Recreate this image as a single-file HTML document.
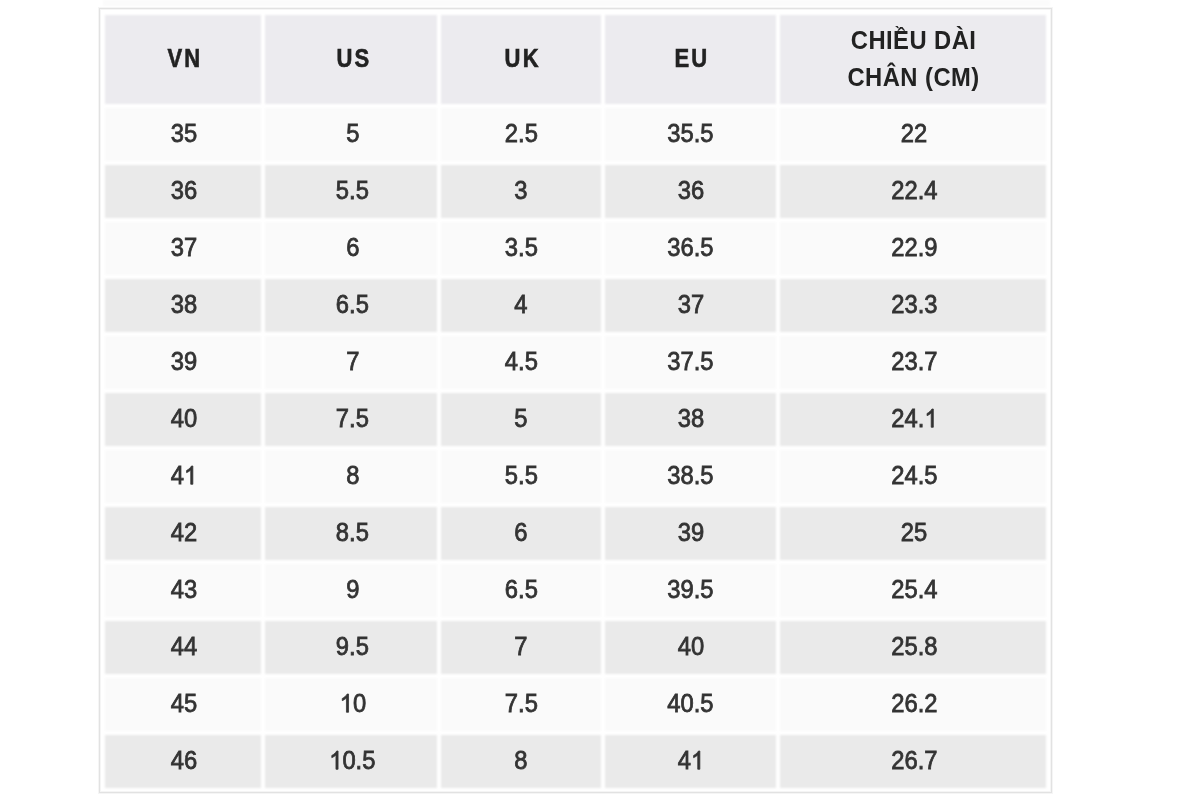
<!DOCTYPE html>
<html><head><meta charset="utf-8"><title>Size chart</title><style>
html,body{margin:0;padding:0;background:#fff;width:1200px;height:800px;overflow:hidden}
body{position:relative;font-family:"Liberation Sans",sans-serif}
.bg,.fg{position:absolute;left:0;top:0;width:1200px;height:800px}
.bg{filter:blur(1px)}
.fg{filter:blur(0.5px)}
.strip{position:absolute;left:103px;top:0;width:947px;height:6px;background:#fbfbfb}
.frame{position:absolute;left:99px;top:8px;width:951px;height:783px;border:1px solid #e2e2e2;box-shadow:0 0 0 1px #f5f5f5,inset 0 0 0 1px #f5f5f5}
.b{position:absolute}
.c{position:absolute;display:flex;align-items:center;justify-content:center;text-align:center;color:#333;font-size:25px;-webkit-text-stroke:0.8px #333}
.c>span{display:block;transform:scaleX(0.95);position:relative;top:-1px}
.h{color:#222;font-weight:bold;-webkit-text-stroke:0;letter-spacing:0.5px}
.hs{-webkit-text-stroke:0.6px #222}
.h5{line-height:37px}
.hs>span{transform:scaleX(0.88);letter-spacing:2.6px;margin-right:-2.6px}
.one{width:0.556em;height:0.73em;fill:currentColor;stroke:currentColor;stroke-width:65;overflow:visible;vertical-align:baseline}
</style></head><body>
<div class="bg">
<div class="strip"></div>

<div class="b" style="left:105px;top:15px;width:156px;height:89px;background:#ecebef"></div>
<div class="b" style="left:265px;top:15px;width:172px;height:89px;background:#ecebef"></div>
<div class="b" style="left:441px;top:15px;width:160px;height:89px;background:#ecebef"></div>
<div class="b" style="left:605px;top:15px;width:171px;height:89px;background:#ecebef"></div>
<div class="b" style="left:780px;top:15px;width:266px;height:89px;background:#ecebef"></div>
<div class="b" style="left:105px;top:108px;width:156px;height:53px;background:#fafafa"></div>
<div class="b" style="left:265px;top:108px;width:172px;height:53px;background:#fafafa"></div>
<div class="b" style="left:441px;top:108px;width:160px;height:53px;background:#fafafa"></div>
<div class="b" style="left:605px;top:108px;width:171px;height:53px;background:#fafafa"></div>
<div class="b" style="left:780px;top:108px;width:266px;height:53px;background:#fafafa"></div>
<div class="b" style="left:105px;top:165px;width:156px;height:53px;background:#eaeaea"></div>
<div class="b" style="left:265px;top:165px;width:172px;height:53px;background:#eaeaea"></div>
<div class="b" style="left:441px;top:165px;width:160px;height:53px;background:#eaeaea"></div>
<div class="b" style="left:605px;top:165px;width:171px;height:53px;background:#eaeaea"></div>
<div class="b" style="left:780px;top:165px;width:266px;height:53px;background:#eaeaea"></div>
<div class="b" style="left:105px;top:222px;width:156px;height:53px;background:#fafafa"></div>
<div class="b" style="left:265px;top:222px;width:172px;height:53px;background:#fafafa"></div>
<div class="b" style="left:441px;top:222px;width:160px;height:53px;background:#fafafa"></div>
<div class="b" style="left:605px;top:222px;width:171px;height:53px;background:#fafafa"></div>
<div class="b" style="left:780px;top:222px;width:266px;height:53px;background:#fafafa"></div>
<div class="b" style="left:105px;top:279px;width:156px;height:53px;background:#eaeaea"></div>
<div class="b" style="left:265px;top:279px;width:172px;height:53px;background:#eaeaea"></div>
<div class="b" style="left:441px;top:279px;width:160px;height:53px;background:#eaeaea"></div>
<div class="b" style="left:605px;top:279px;width:171px;height:53px;background:#eaeaea"></div>
<div class="b" style="left:780px;top:279px;width:266px;height:53px;background:#eaeaea"></div>
<div class="b" style="left:105px;top:336px;width:156px;height:53px;background:#fafafa"></div>
<div class="b" style="left:265px;top:336px;width:172px;height:53px;background:#fafafa"></div>
<div class="b" style="left:441px;top:336px;width:160px;height:53px;background:#fafafa"></div>
<div class="b" style="left:605px;top:336px;width:171px;height:53px;background:#fafafa"></div>
<div class="b" style="left:780px;top:336px;width:266px;height:53px;background:#fafafa"></div>
<div class="b" style="left:105px;top:393px;width:156px;height:53px;background:#eaeaea"></div>
<div class="b" style="left:265px;top:393px;width:172px;height:53px;background:#eaeaea"></div>
<div class="b" style="left:441px;top:393px;width:160px;height:53px;background:#eaeaea"></div>
<div class="b" style="left:605px;top:393px;width:171px;height:53px;background:#eaeaea"></div>
<div class="b" style="left:780px;top:393px;width:266px;height:53px;background:#eaeaea"></div>
<div class="b" style="left:105px;top:450px;width:156px;height:53px;background:#fafafa"></div>
<div class="b" style="left:265px;top:450px;width:172px;height:53px;background:#fafafa"></div>
<div class="b" style="left:441px;top:450px;width:160px;height:53px;background:#fafafa"></div>
<div class="b" style="left:605px;top:450px;width:171px;height:53px;background:#fafafa"></div>
<div class="b" style="left:780px;top:450px;width:266px;height:53px;background:#fafafa"></div>
<div class="b" style="left:105px;top:507px;width:156px;height:53px;background:#eaeaea"></div>
<div class="b" style="left:265px;top:507px;width:172px;height:53px;background:#eaeaea"></div>
<div class="b" style="left:441px;top:507px;width:160px;height:53px;background:#eaeaea"></div>
<div class="b" style="left:605px;top:507px;width:171px;height:53px;background:#eaeaea"></div>
<div class="b" style="left:780px;top:507px;width:266px;height:53px;background:#eaeaea"></div>
<div class="b" style="left:105px;top:564px;width:156px;height:53px;background:#fafafa"></div>
<div class="b" style="left:265px;top:564px;width:172px;height:53px;background:#fafafa"></div>
<div class="b" style="left:441px;top:564px;width:160px;height:53px;background:#fafafa"></div>
<div class="b" style="left:605px;top:564px;width:171px;height:53px;background:#fafafa"></div>
<div class="b" style="left:780px;top:564px;width:266px;height:53px;background:#fafafa"></div>
<div class="b" style="left:105px;top:621px;width:156px;height:53px;background:#eaeaea"></div>
<div class="b" style="left:265px;top:621px;width:172px;height:53px;background:#eaeaea"></div>
<div class="b" style="left:441px;top:621px;width:160px;height:53px;background:#eaeaea"></div>
<div class="b" style="left:605px;top:621px;width:171px;height:53px;background:#eaeaea"></div>
<div class="b" style="left:780px;top:621px;width:266px;height:53px;background:#eaeaea"></div>
<div class="b" style="left:105px;top:678px;width:156px;height:53px;background:#fafafa"></div>
<div class="b" style="left:265px;top:678px;width:172px;height:53px;background:#fafafa"></div>
<div class="b" style="left:441px;top:678px;width:160px;height:53px;background:#fafafa"></div>
<div class="b" style="left:605px;top:678px;width:171px;height:53px;background:#fafafa"></div>
<div class="b" style="left:780px;top:678px;width:266px;height:53px;background:#fafafa"></div>
<div class="b" style="left:105px;top:735px;width:156px;height:53px;background:#eaeaea"></div>
<div class="b" style="left:265px;top:735px;width:172px;height:53px;background:#eaeaea"></div>
<div class="b" style="left:441px;top:735px;width:160px;height:53px;background:#eaeaea"></div>
<div class="b" style="left:605px;top:735px;width:171px;height:53px;background:#eaeaea"></div>
<div class="b" style="left:780px;top:735px;width:266px;height:53px;background:#eaeaea"></div>
</div>
<div class="frame"></div>
<div class="fg">
<div class="c h hs" style="left:105px;top:15px;width:156px;height:89px"><span style="left:1px">VN</span></div>
<div class="c h hs" style="left:265px;top:15px;width:172px;height:89px"><span style="left:1.5px">US</span></div>
<div class="c h hs" style="left:441px;top:15px;width:160px;height:89px"><span style="left:0px">UK</span></div>
<div class="c h hs" style="left:605px;top:15px;width:171px;height:89px"><span style="left:0px">EU</span></div>
<div class="c h h5" style="left:780px;top:15px;width:266px;height:89px"><span style="left:1px">CHI&#7872;U D&Agrave;I<br>CH&Acirc;N (CM)</span></div>
<div class="c" style="left:105px;top:108px;width:156px;height:53px"><span style="left:1px">35</span></div>
<div class="c" style="left:265px;top:108px;width:172px;height:53px"><span style="left:1.5px">5</span></div>
<div class="c" style="left:441px;top:108px;width:160px;height:53px"><span style="left:0px">2.5</span></div>
<div class="c" style="left:605px;top:108px;width:171px;height:53px"><span style="left:0px">35.5</span></div>
<div class="c" style="left:780px;top:108px;width:266px;height:53px"><span style="left:1px">22</span></div>
<div class="c" style="left:105px;top:165px;width:156px;height:53px"><span style="left:1px">36</span></div>
<div class="c" style="left:265px;top:165px;width:172px;height:53px"><span style="left:1.5px">5.5</span></div>
<div class="c" style="left:441px;top:165px;width:160px;height:53px"><span style="left:0px">3</span></div>
<div class="c" style="left:605px;top:165px;width:171px;height:53px"><span style="left:0px">36</span></div>
<div class="c" style="left:780px;top:165px;width:266px;height:53px"><span style="left:1px">22.4</span></div>
<div class="c" style="left:105px;top:222px;width:156px;height:53px"><span style="left:1px">37</span></div>
<div class="c" style="left:265px;top:222px;width:172px;height:53px"><span style="left:1.5px">6</span></div>
<div class="c" style="left:441px;top:222px;width:160px;height:53px"><span style="left:0px">3.5</span></div>
<div class="c" style="left:605px;top:222px;width:171px;height:53px"><span style="left:0px">36.5</span></div>
<div class="c" style="left:780px;top:222px;width:266px;height:53px"><span style="left:1px">22.9</span></div>
<div class="c" style="left:105px;top:279px;width:156px;height:53px"><span style="left:1px">38</span></div>
<div class="c" style="left:265px;top:279px;width:172px;height:53px"><span style="left:1.5px">6.5</span></div>
<div class="c" style="left:441px;top:279px;width:160px;height:53px"><span style="left:0px">4</span></div>
<div class="c" style="left:605px;top:279px;width:171px;height:53px"><span style="left:0px">37</span></div>
<div class="c" style="left:780px;top:279px;width:266px;height:53px"><span style="left:1px">23.3</span></div>
<div class="c" style="left:105px;top:336px;width:156px;height:53px"><span style="left:1px">39</span></div>
<div class="c" style="left:265px;top:336px;width:172px;height:53px"><span style="left:1.5px">7</span></div>
<div class="c" style="left:441px;top:336px;width:160px;height:53px"><span style="left:0px">4.5</span></div>
<div class="c" style="left:605px;top:336px;width:171px;height:53px"><span style="left:0px">37.5</span></div>
<div class="c" style="left:780px;top:336px;width:266px;height:53px"><span style="left:1px">23.7</span></div>
<div class="c" style="left:105px;top:393px;width:156px;height:53px"><span style="left:1px">40</span></div>
<div class="c" style="left:265px;top:393px;width:172px;height:53px"><span style="left:1.5px">7.5</span></div>
<div class="c" style="left:441px;top:393px;width:160px;height:53px"><span style="left:0px">5</span></div>
<div class="c" style="left:605px;top:393px;width:171px;height:53px"><span style="left:0px">38</span></div>
<div class="c" style="left:780px;top:393px;width:266px;height:53px"><span style="left:1px">24.<svg class="one" viewBox="0 0 1139 1409" preserveAspectRatio="none" aria-hidden="true"><path transform="matrix(1 0 0 -1 0 1409)" d="M763 0L583 0L583 1102C540 1063 483 1023 413 984C342 945 279 915 223 896L223 1063C323 1108 410 1163 485 1227C560 1291 613 1351 644 1409L763 1409Z"/></svg></span></div>
<div class="c" style="left:105px;top:450px;width:156px;height:53px"><span style="left:1px">4<svg class="one" viewBox="0 0 1139 1409" preserveAspectRatio="none" aria-hidden="true"><path transform="matrix(1 0 0 -1 0 1409)" d="M763 0L583 0L583 1102C540 1063 483 1023 413 984C342 945 279 915 223 896L223 1063C323 1108 410 1163 485 1227C560 1291 613 1351 644 1409L763 1409Z"/></svg></span></div>
<div class="c" style="left:265px;top:450px;width:172px;height:53px"><span style="left:1.5px">8</span></div>
<div class="c" style="left:441px;top:450px;width:160px;height:53px"><span style="left:0px">5.5</span></div>
<div class="c" style="left:605px;top:450px;width:171px;height:53px"><span style="left:0px">38.5</span></div>
<div class="c" style="left:780px;top:450px;width:266px;height:53px"><span style="left:1px">24.5</span></div>
<div class="c" style="left:105px;top:507px;width:156px;height:53px"><span style="left:1px">42</span></div>
<div class="c" style="left:265px;top:507px;width:172px;height:53px"><span style="left:1.5px">8.5</span></div>
<div class="c" style="left:441px;top:507px;width:160px;height:53px"><span style="left:0px">6</span></div>
<div class="c" style="left:605px;top:507px;width:171px;height:53px"><span style="left:0px">39</span></div>
<div class="c" style="left:780px;top:507px;width:266px;height:53px"><span style="left:1px">25</span></div>
<div class="c" style="left:105px;top:564px;width:156px;height:53px"><span style="left:1px">43</span></div>
<div class="c" style="left:265px;top:564px;width:172px;height:53px"><span style="left:1.5px">9</span></div>
<div class="c" style="left:441px;top:564px;width:160px;height:53px"><span style="left:0px">6.5</span></div>
<div class="c" style="left:605px;top:564px;width:171px;height:53px"><span style="left:0px">39.5</span></div>
<div class="c" style="left:780px;top:564px;width:266px;height:53px"><span style="left:1px">25.4</span></div>
<div class="c" style="left:105px;top:621px;width:156px;height:53px"><span style="left:1px">44</span></div>
<div class="c" style="left:265px;top:621px;width:172px;height:53px"><span style="left:1.5px">9.5</span></div>
<div class="c" style="left:441px;top:621px;width:160px;height:53px"><span style="left:0px">7</span></div>
<div class="c" style="left:605px;top:621px;width:171px;height:53px"><span style="left:0px">40</span></div>
<div class="c" style="left:780px;top:621px;width:266px;height:53px"><span style="left:1px">25.8</span></div>
<div class="c" style="left:105px;top:678px;width:156px;height:53px"><span style="left:1px">45</span></div>
<div class="c" style="left:265px;top:678px;width:172px;height:53px"><span style="left:1.5px"><svg class="one" viewBox="0 0 1139 1409" preserveAspectRatio="none" aria-hidden="true"><path transform="matrix(1 0 0 -1 0 1409)" d="M763 0L583 0L583 1102C540 1063 483 1023 413 984C342 945 279 915 223 896L223 1063C323 1108 410 1163 485 1227C560 1291 613 1351 644 1409L763 1409Z"/></svg>0</span></div>
<div class="c" style="left:441px;top:678px;width:160px;height:53px"><span style="left:0px">7.5</span></div>
<div class="c" style="left:605px;top:678px;width:171px;height:53px"><span style="left:0px">40.5</span></div>
<div class="c" style="left:780px;top:678px;width:266px;height:53px"><span style="left:1px">26.2</span></div>
<div class="c" style="left:105px;top:735px;width:156px;height:53px"><span style="left:1px">46</span></div>
<div class="c" style="left:265px;top:735px;width:172px;height:53px"><span style="left:1.5px"><svg class="one" viewBox="0 0 1139 1409" preserveAspectRatio="none" aria-hidden="true"><path transform="matrix(1 0 0 -1 0 1409)" d="M763 0L583 0L583 1102C540 1063 483 1023 413 984C342 945 279 915 223 896L223 1063C323 1108 410 1163 485 1227C560 1291 613 1351 644 1409L763 1409Z"/></svg>0.5</span></div>
<div class="c" style="left:441px;top:735px;width:160px;height:53px"><span style="left:0px">8</span></div>
<div class="c" style="left:605px;top:735px;width:171px;height:53px"><span style="left:0px">4<svg class="one" viewBox="0 0 1139 1409" preserveAspectRatio="none" aria-hidden="true"><path transform="matrix(1 0 0 -1 0 1409)" d="M763 0L583 0L583 1102C540 1063 483 1023 413 984C342 945 279 915 223 896L223 1063C323 1108 410 1163 485 1227C560 1291 613 1351 644 1409L763 1409Z"/></svg></span></div>
<div class="c" style="left:780px;top:735px;width:266px;height:53px"><span style="left:1px">26.7</span></div>
</div>
</body></html>
